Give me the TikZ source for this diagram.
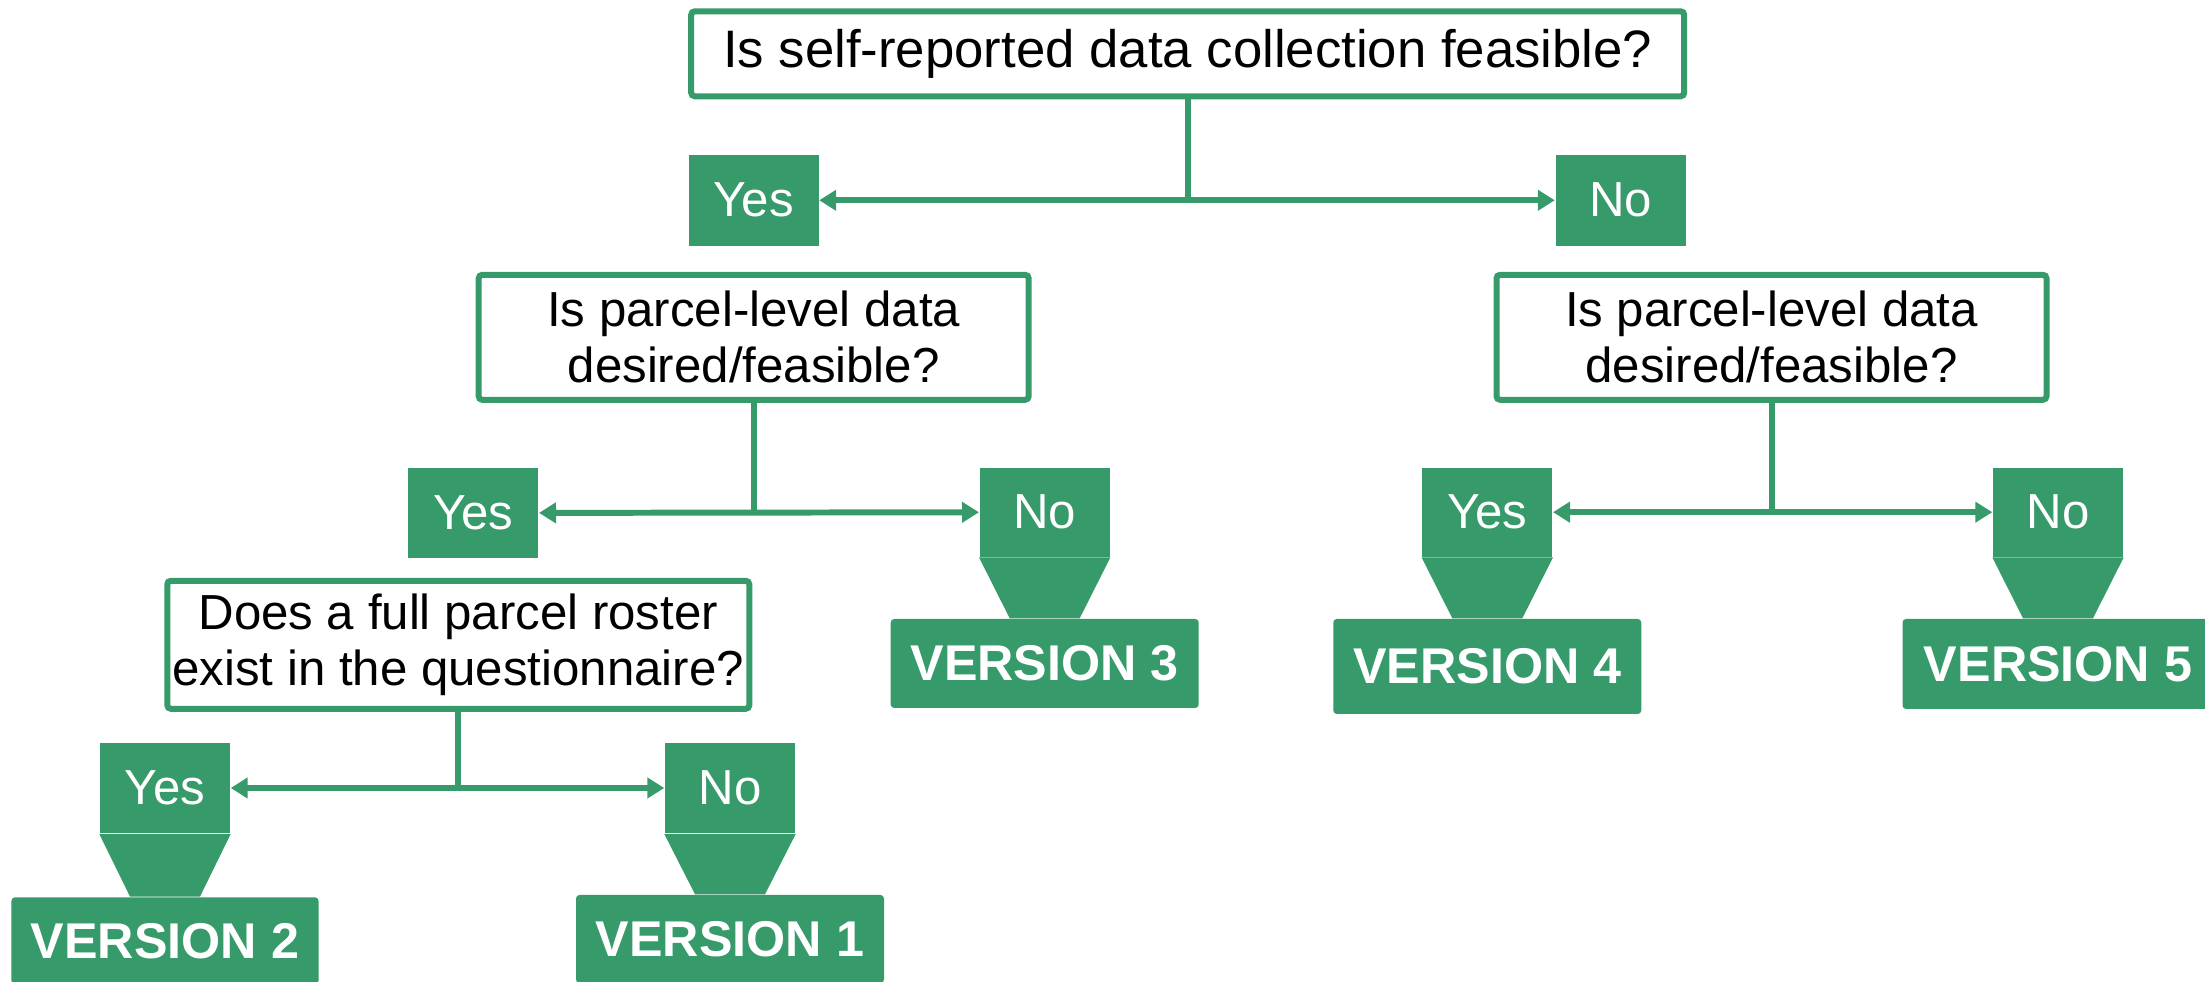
\documentclass[tikz,border=0pt]{standalone}
\usepackage{fontspec}
\setmainfont{Liberation Sans}
\usepackage{tikz}
\usetikzlibrary{arrows.meta}
\definecolor{leaf}{RGB}{54,154,106}

\begin{document}
\begin{tikzpicture}[
    question/.style={draw=leaf, line width=1.7pt, fill=white, rounded corners=1pt, inner sep=0pt, align=center, font=\fontsize{14}{16}\selectfont},
    answer/.style={fill=leaf, text=white, inner sep=0pt, minimum width=1.3cm, font=\fontsize{14}{16}\selectfont},
    version/.style={fill=leaf, text=white, rounded corners=1pt, inner sep=0pt, minimum width=3.08cm, font=\fontsize{14.3}{16}\selectfont\bfseries},
    link/.style={draw=leaf, line width=1.7pt},
    twoway/.style={link, {Triangle[length=0.17cm, width=0.2cm]}-{Triangle[length=0.17cm, width=0.2cm]}}
]
    \useasboundingbox (0,0) rectangle (22.05,9.82);
    % questions:
    \node[question, minimum width=9.93cm, minimum height=0.85cm, font=\fontsize{15}{17}\selectfont] (top) at (11.877,9.282) {Is self-reported data collection feasible?};
    \node[question, minimum width=5.5cm, minimum height=1.25cm] (parcelL) at (7.537,6.447) {Is parcel-level data\\desired/feasible?};
    \node[question, minimum width=5.5cm, minimum height=1.25cm] (parcelR) at (17.715,6.447) {Is parcel-level data\\desired/feasible?};
    \node[question, minimum width=5.82cm, minimum height=1.28cm] (roster) at (4.583,3.372) {Does a full parcel roster\\exist in the questionnaire?};
    % answers:
    \node[answer, minimum height=0.907cm] (yesA) at (7.535,7.817) {Yes};
    \node[answer, minimum height=0.907cm] (noA) at (16.205,7.817) {No};
    \node[answer, minimum height=0.906cm] (yesB) at (4.733,4.69) {Yes};
    \node[answer, minimum height=0.89cm] (noB) at (10.447,4.698) {No};
    \node[answer, minimum height=0.89cm] (yesC) at (14.873,4.698) {Yes};
    \node[answer, minimum height=0.89cm] (noC) at (20.58,4.698) {No};
    \node[answer, minimum height=0.906cm] (yesD) at (1.65,1.94) {Yes};
    \node[answer, minimum height=0.906cm] (noD) at (7.30,1.94) {No};
    % versions:
    \node[version, minimum height=0.89cm] (v3) at (10.447,3.185) {VERSION 3};
    \node[version, minimum height=0.95cm] (v4) at (14.873,3.155) {VERSION 4};
    \node[version, minimum width=3.11cm, minimum height=0.9cm] (v5) at (20.58,3.18) {VERSION 5};
    \node[version, minimum width=3.07cm, minimum height=0.87cm] (v2) at (1.65,0.412) {VERSION 2};
    \node[version, minimum height=0.88cm] (v1) at (7.30,0.43) {VERSION 1};
    % funnels:
    \foreach \a/\v in {noB/v3, yesC/v4, noC/v5, yesD/v2, noD/v1}
        \fill[leaf] (\a.south west) -- (\a.south east) -- ([xshift=0.35cm]\v.north) -- ([xshift=-0.35cm]\v.north) -- cycle;
    % lines:
    \draw[link] (top.south) -- (top.south |- yesA.east);
    \draw[twoway] (yesA) -- (noA);
    \draw[link] (parcelL.south) -- (parcelL.south |- yesB.east);
    \draw[twoway] (yesB) -- (noB);
    \draw[link] (parcelR.south) -- (parcelR.south |- yesC.east);
    \draw[twoway] (yesC) -- (noC);
    \draw[link] (roster.south) -- (roster.south |- yesD.east);
    \draw[twoway] (yesD) -- (noD);
\end{tikzpicture}
\end{document}
